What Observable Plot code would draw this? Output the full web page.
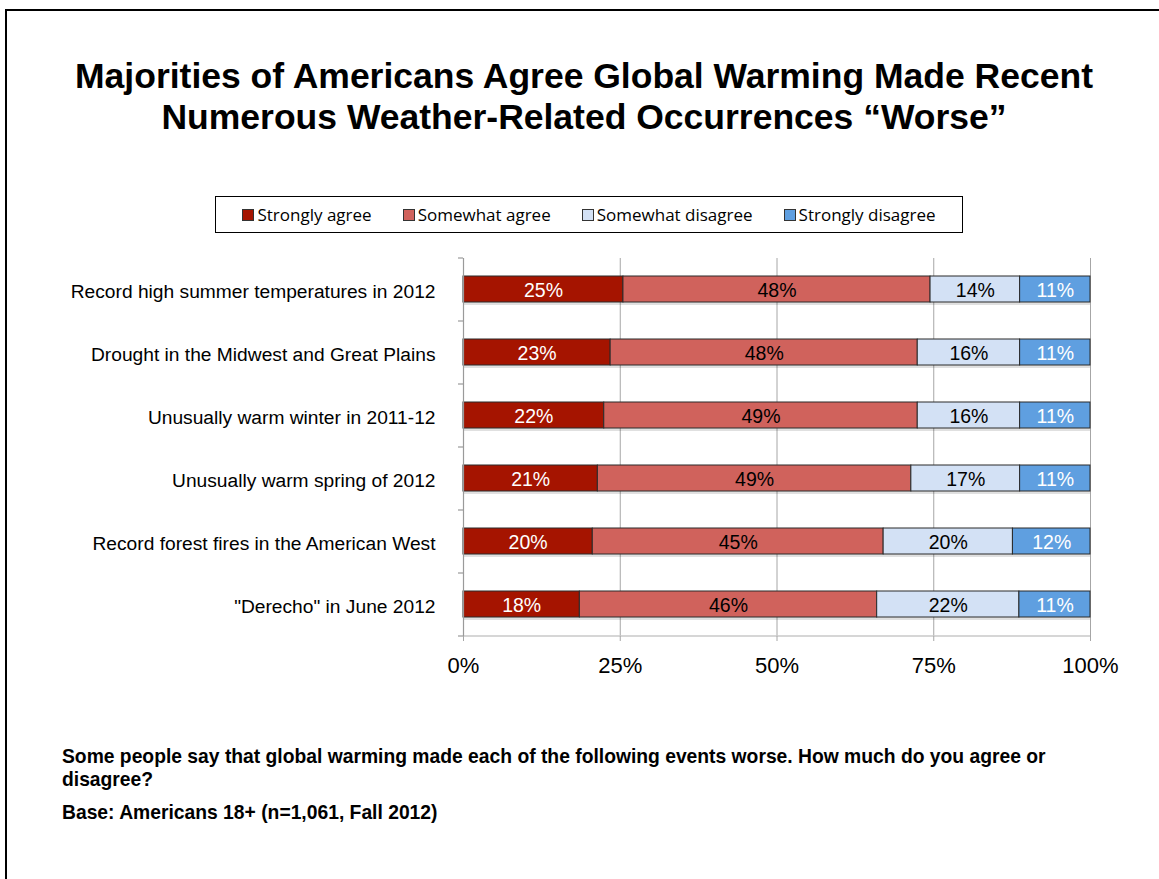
<!DOCTYPE html>
<html>
<head>
<meta charset="utf-8">
<script src="https://cdn.jsdelivr.net/npm/d3@7"></script>
<script src="https://cdn.jsdelivr.net/npm/@observablehq/plot@0.6"></script>
<style>
  html, body { margin: 0; padding: 0; background: #fff; }
  body { width: 1159px; height: 879px; position: relative; overflow: hidden; font-family: "Liberation Sans", Arial, sans-serif; }
  #frame { position: absolute; left: 5px; top: 9px; width: 1200px; height: 1000px; border: 2px solid #000; box-sizing: border-box; }
  #title { position: absolute; left: 0; top: 56px; width: 1168px; text-align: center; font-weight: bold; font-size: 35.5px; line-height: 41px; color: #000; }
  #legend { position: absolute; left: 215px; top: 196px; width: 748px; height: 37px; border: 1px solid #000; box-sizing: border-box; display: flex; align-items: center; justify-content: center; gap: 31px; font-family: "Open Sans", sans-serif; font-size: 17px; color: #000; }
  #legend .item { display: flex; align-items: center; }
  #legend .sw { width: 10px; height: 10px; border: 1px solid #333; margin-right: 3px; }
  #chart { position: absolute; left: 0; top: 240px; }
  #foot { position: absolute; left: 62px; top: 745px; width: 1000px; font-weight: bold; font-size: 19.3px; line-height: 23px; color: #000; }
  #foot p { margin: 0 0 10px 0; }
</style>
</head>
<body>
<div id="frame"></div>
<div id="title">Majorities of Americans Agree Global Warming Made Recent<br>Numerous Weather-Related Occurrences “Worse”</div>
<div id="legend"></div>
<div id="chart"></div>
<div id="foot">
  <p>Some people say that global warming made each of the following events worse. How much do you agree or disagree?</p>
  <p>Base: Americans 18+ (n=1,061, Fall 2012)</p>
</div>
<script>
const categories = [
  "Record high summer temperatures in 2012",
  "Drought in the Midwest and Great Plains",
  "Unusually warm winter in 2011-12",
  "Unusually warm spring of 2012",
  "Record forest fires in the American West",
  "\"Derecho\" in June 2012"
];
const responses = ["Strongly agree", "Somewhat agree", "Somewhat disagree", "Strongly disagree"];
const stronglyAgree    = [25, 23, 22, 21, 20, 18];
const somewhatAgree    = [48, 48, 49, 49, 45, 46];
const somewhatDisagree = [14, 16, 16, 17, 20, 22];
const stronglyDisagree = [11, 11, 11, 11, 12, 11];
const colors = ["#a51400", "#d0625c", "#d3e1f5", "#5f9fe0"];
const labelColors = ["#ffffff", "#000000", "#000000", "#ffffff"];
const xTicks = [0, 0.25, 0.5, 0.75, 1];

const seriesValues = [stronglyAgree, somewhatAgree, somewhatDisagree, stronglyDisagree];
const data = [];
categories.forEach((c, i) => {
  responses.forEach((r, j) => {
    data.push({category: c, response: r, value: seriesValues[j][i], label: labelColors[j]});
  });
});

// legend
const leg = document.getElementById("legend");
responses.forEach((r, j) => {
  const it = document.createElement("div");
  it.className = "item";
  const sw = document.createElement("span");
  sw.className = "sw";
  sw.style.background = colors[j];
  it.appendChild(sw);
  it.appendChild(document.createTextNode(r));
  leg.appendChild(it);
});

const stackOpts = {x: "value", y: "category", z: "response", order: responses, offset: "normalize"};
const lastCat = categories[categories.length - 1];

const chart = Plot.plot({
  width: 1159,
  height: 446,
  marginLeft: 463,
  marginRight: 69,
  marginTop: 18,
  marginBottom: 50,
  style: {fontFamily: "'Liberation Sans', Arial, sans-serif", color: "#000", background: "transparent"},
  x: {domain: [0, 1], label: null},
  y: {domain: categories, paddingInner: 0.587, paddingOuter: 0.2935, label: null},
  color: {domain: responses, range: colors},
  marks: [
    Plot.ruleX(xTicks.slice(1), {stroke: "#a6a6a6", strokeWidth: 1, strokeOpacity: 1}),
    Plot.ruleY([0], {y: () => lastCat, x1: 0, x2: 1, dy: 31.5, stroke: "#c8c8c8", strokeWidth: 1.5}),
    // shadows
    Plot.barX(data, Plot.stackX({...stackOpts, fill: "#000", fillOpacity: 0.12, dy: 3})),
    Plot.barX(data, Plot.stackX({...stackOpts, fill: "response", stroke: "#2a2a2a", strokeWidth: 1})),
    Plot.text(data, Plot.stackX({...stackOpts, text: d => d.value + "%", fill: "label", fontSize: 19.5, dy: 1})),
    Plot.ruleX([0], {stroke: "#9a9a9a", strokeWidth: 1.2}),
    // category boundary ticks on the y axis
    Plot.ruleY(categories, {y: d => d, x1: -0.008, x2: 0, dy: -31.5, stroke: "#9a9a9a", strokeWidth: 1.2}),
    Plot.ruleY([lastCat], {y: d => d, x1: -0.008, x2: 0, dy: 31.5, stroke: "#9a9a9a", strokeWidth: 1.2}),
    Plot.axisY({tickSize: 0, tickPadding: 28, fontSize: 19.2, dy: 2, label: null}),
    Plot.axisX({ticks: xTicks, tickFormat: d => Math.round(d * 100) + "%", tickSize: 5, tickPadding: 16, fontSize: 22, stroke: "#a6a6a6", label: null})
  ]
});
document.getElementById("chart").appendChild(chart);
</script>
</body>
</html>
